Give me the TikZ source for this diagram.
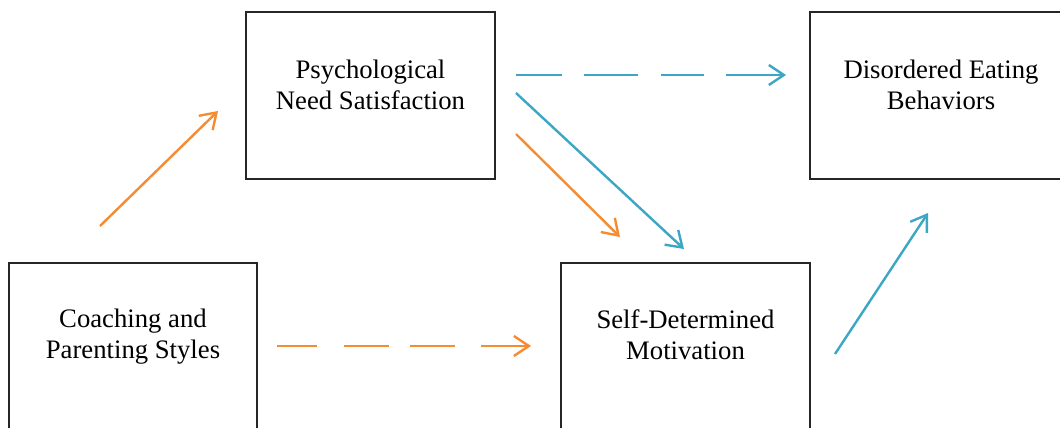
\documentclass[tikz,border=0pt]{standalone}
\usepackage{fontspec}
\setmainfont{Liberation Serif}
\usetikzlibrary{arrows.meta}
\definecolor{orng}{RGB}{245,140,50}
\definecolor{blu}{RGB}{60,166,196}
\tikzset{
  box/.style={draw=black!85, line width=1.2pt, rectangle, inner sep=0pt},
  lbl/.style={align=center, font=\fontsize{26.7}{31}\selectfont, inner sep=0pt},
  arr/.style={line width=2.4pt, -{Straight Barb[length=15pt,width=20pt,line width=2.4pt]}},
  dsho/.style={dash pattern=on 40pt off 27pt on 45pt off 21pt on 45pt off 26pt on 80pt},
  dshb/.style={dash pattern=on 46pt off 22pt on 54pt off 23pt on 43pt off 22pt on 90pt}
}
\begin{document}
\begin{tikzpicture}[x=1pt,y=-1pt]
\useasboundingbox (0,0) rectangle (1060,428);
% boxes
\node[box, minimum width=249pt, minimum height=167pt] (psy) at (370.5,95.5) {};
\node[box, minimum width=252pt, minimum height=167pt] (dis) at (936,95.5) {};
\node[box, minimum width=248pt, minimum height=167pt] (coa) at (133,346.5) {};
\node[box, minimum width=249pt, minimum height=167pt] (sdm) at (685.5,346.5) {};
% labels
\node[lbl] (psyt) at (370.5,84.5) {Psychological\\Need Satisfaction};
\node[lbl] (dist) at (941,84.5) {Disordered Eating\\Behaviors};
\node[lbl] (coat) at (133,336.5) {Coaching and\\Parenting Styles};
\node[lbl] (sdmt) at (685.5,335) {Self-Determined\\Motivation};
% arrow endpoints
\coordinate (a1s) at (100,226);  \coordinate (a1e) at (218,111);
\coordinate (a2s) at (277,346);  \coordinate (a2e) at (531,346);
\coordinate (a3s) at (516,134);  \coordinate (a3e) at (620,237);
\coordinate (a4s) at (516,93);   \coordinate (a4e) at (684,249);
\coordinate (a5s) at (516,75);   \coordinate (a5e) at (786,75);
\coordinate (a6s) at (835,354);  \coordinate (a6e) at (928,213);
% arrows
\draw[arr, orng] (a1s) -- (a1e);
\draw[arr, orng, dsho] (a2s) -- (a2e);
\draw[arr, orng] (a3s) -- (a3e);
\draw[arr, blu] (a4s) -- (a4e);
\draw[arr, blu, dshb] (a5s) -- (a5e);
\draw[arr, blu] (a6s) -- (a6e);
\end{tikzpicture}
\end{document}
